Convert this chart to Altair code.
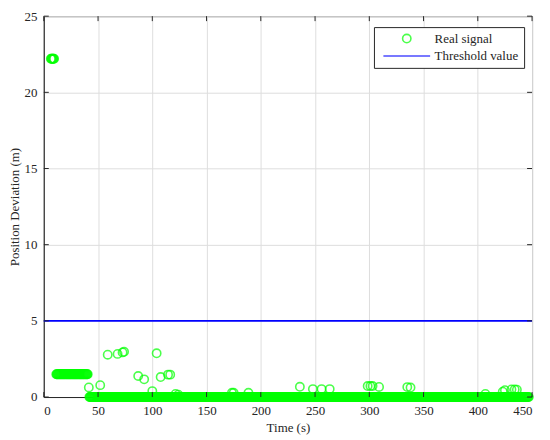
import altair as alt
import numpy as np
import pandas as pd

# Dense constant segments of the real signal: (start time, end time, value)
seg_start = [6.5, 11.5, 42.0]
seg_end = [9.5, 40.5, 447.0]
seg_value = [22.2, 1.5, 0.0]
sample_step = 0.5

# Scattered samples of the real signal
out_t = [41.5, 52, 58.9, 68, 72.6, 74, 87, 92.5, 100, 104, 107.7, 114.5, 116.5,
         121.5, 124, 173.4, 175, 188.6, 236, 248, 256, 263.5, 298.5, 301, 303,
         309, 335, 338, 407, 423, 425, 431, 434, 436]
out_y = [0.63, 0.78, 2.78, 2.83, 2.93, 2.97, 1.38, 1.16, 0.39, 2.87, 1.31, 1.47,
         1.47, 0.2, 0.15, 0.28, 0.28, 0.28, 0.67, 0.52, 0.52, 0.52, 0.72, 0.72,
         0.72, 0.66, 0.65, 0.62, 0.2, 0.35, 0.45, 0.5, 0.5, 0.48]

threshold = 5.0
x_ticks = [0, 50, 100, 150, 200, 250, 300, 350, 400, 450]
y_ticks = [0, 5, 10, 15, 20, 25]

W, H = 491, 383
FONT = "Liberation Serif"
TXT = "#262626"

ts, vs = [], []
for a, b, v in zip(seg_start, seg_end, seg_value):
    t = np.arange(a, b + 1e-9, sample_step)
    ts.extend(t.tolist())
    vs.extend([v] * len(t))
ts.extend(out_t)
vs.extend(out_y)
sig = pd.DataFrame({"t": ts, "y": vs, "series": "Real signal"})
thr = pd.DataFrame({"y": [threshold], "series": ["Threshold value"]})
xt = pd.DataFrame({"v": x_ticks})
yt = pd.DataFrame({"v": y_ticks})

domain = ["Real signal", "Threshold value"]
xsc = alt.Scale(domain=[0, 450], nice=False, zero=False)
ysc = alt.Scale(domain=[0, 25], nice=False)

legend = alt.Legend(title=None, orient="none", legendX=332, legendY=11,
                    fillColor="white", strokeColor=TXT, padding=5,
                    labelFont=FONT, labelFontSize=13, labelColor=TXT,
                    symbolStrokeWidth=1.6, rowPadding=3,
                    symbolOffset=21, labelOffset=21)
color = alt.Color("series:N", scale=alt.Scale(domain=domain, range=["#00ff00", "#0000ff"]), legend=legend)

axis_common = dict(grid=True, gridColor="#dedede", tickSize=0, domainColor=TXT,
                   labelFont=FONT, titleFont=FONT, labelFontSize=13, titleFontSize=13,
                   labelColor=TXT, titleColor=TXT, titleFontWeight="normal")
xaxis = alt.Axis(values=x_ticks, title="Time (s)", labelPadding=8, titlePadding=4, **axis_common)
yaxis = alt.Axis(values=y_ticks, title="Position Deviation (m)", labelPadding=7, titlePadding=2, **axis_common)

points = alt.Chart(sig).mark_point(filled=False, strokeWidth=1.6).encode(
    x=alt.X("t:Q", scale=xsc, axis=xaxis),
    y=alt.Y("y:Q", scale=ysc, axis=yaxis),
    color=color,
    shape=alt.Shape("series:N", scale=alt.Scale(domain=domain, range=["circle", "M-4,0H4"]), legend=legend),
    size=alt.Size("series:N", scale=alt.Scale(domain=domain, range=[70, 138]), legend=legend),
)

rule = alt.Chart(thr).mark_rule(strokeWidth=1.6).encode(
    y=alt.Y("y:Q", scale=ysc),
    color=color,
)

tk = dict(color=TXT, strokeWidth=1)
xb = alt.Chart(xt).mark_rule(**tk).encode(x=alt.X("v:Q", scale=xsc), y=alt.value(H), y2=alt.value(H - 5))
xtop = alt.Chart(xt).mark_rule(**tk).encode(x=alt.X("v:Q", scale=xsc), y=alt.value(0), y2=alt.value(5))
yl = alt.Chart(yt).mark_rule(**tk).encode(y=alt.Y("v:Q", scale=ysc), x=alt.value(0), x2=alt.value(5))
yr = alt.Chart(yt).mark_rule(**tk).encode(y=alt.Y("v:Q", scale=ysc), x=alt.value(W), x2=alt.value(W - 5))

chart = alt.layer(rule, points, xb, xtop, yl, yr).resolve_legend(
    color="shared", shape="shared", size="shared"
).properties(
    width=W, height=H,
    autosize=alt.AutoSizeParams(type="none"),
    padding={"left": 36, "top": 7, "right": 10, "bottom": 40},
).configure_view(
    stroke=TXT, strokeWidth=1
).configure_axis(
    labelFont=FONT, titleFont=FONT, labelFontSize=13, titleFontSize=13,
    labelColor=TXT, titleColor=TXT, titleFontWeight="normal"
)

chart.save("out.html", embed_options={"renderer": "svg", "actions": False})
